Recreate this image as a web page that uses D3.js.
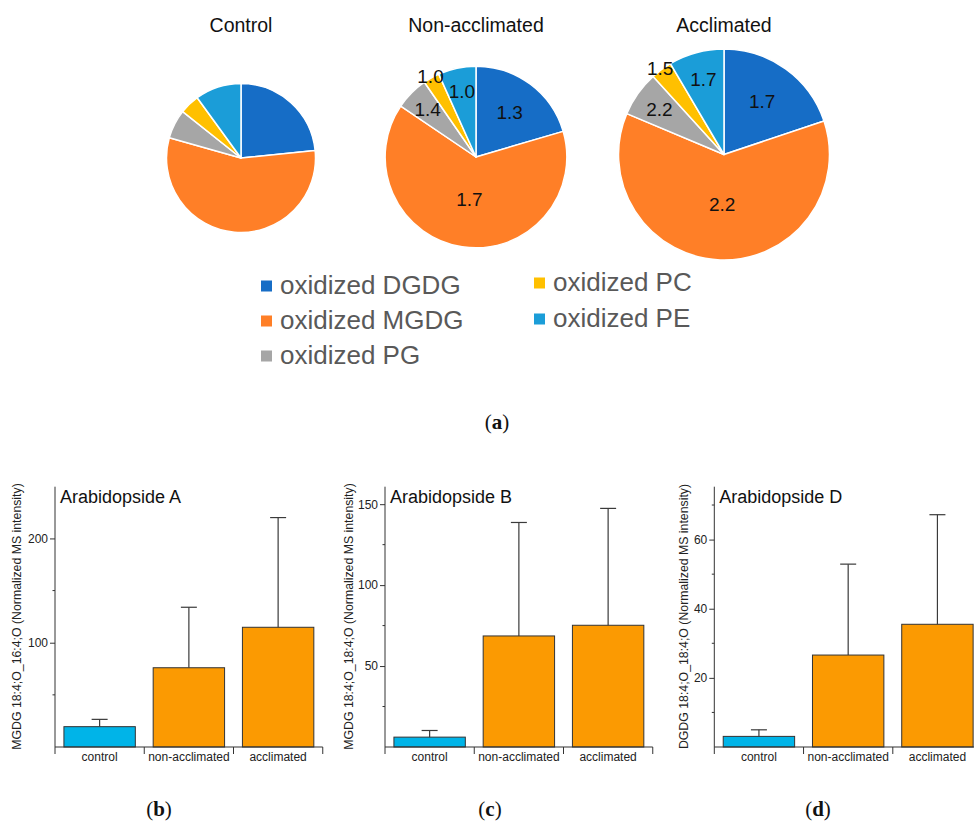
<!DOCTYPE html>
<html><head><meta charset="utf-8">
<script src="https://cdn.jsdelivr.net/npm/d3@7"></script>
<style>
body{margin:0;background:#fff;}
svg{display:block;font-family:"Liberation Sans",Arial,sans-serif;}
</style></head>
<body>
<svg id="c" width="974" height="828"></svg>
<script>
// ---------- DATA ----------
const lipidClasses = ["oxidized DGDG","oxidized MGDG","oxidized PG","oxidized PC","oxidized PE"];
const pieTitles = ["Control","Non-acclimated","Acclimated"];
// relative amounts of each oxidized class (control total = 100)
const controlShares = [23.4, 56.0, 6.3, 4.3, 10.0];
const nonAcclimatedShares = [30.4, 95.2, 8.8, 4.3, 10.0];
const acclimatedShares = [39.8, 123.2, 13.9, 6.5, 17.0];
// fold-change labels written on slices
const controlLabels = [null, null, null, null, null];
const nonAcclimatedLabels = ["1.3","1.7","1.4","1.0","1.0"];
const acclimatedLabels = ["1.7","2.2","2.2","1.5","1.7"];

const barCategories = ["control","non-acclimated","acclimated"];
const arabidopsideA = [19.5, 76, 114.8];
const arabidopsideAErr = [7, 58, 105.2];
const arabidopsideB = [6.1, 68.6, 75.2];
const arabidopsideBErr = [4.1, 70.1, 72.2];
const arabidopsideD = [3.07, 26.6, 35.5];
const arabidopsideDErr = [1.9, 26.3, 31.7];
const ticksA = [100, 200];
const ticksB = [50, 100, 150];
const ticksD = [20, 40, 60];

// ---------- STYLE / LAYOUT ----------
const pieColors = ["#166dc6","#ff7f27","#a6a6a6","#ffc000","#1b9dd8"];
const labelRadiusFactor = [0.62, 0.47, 0.75, 1.02, 0.74];
const svg = d3.select("#c");

// ---------- PIES ----------
const pieSets = [
  {title: pieTitles[0], values: controlShares, labels: controlLabels, cx: 241, cy: 158},
  {title: pieTitles[1], values: nonAcclimatedShares, labels: nonAcclimatedLabels, cx: 476, cy: 157},
  {title: pieTitles[2], values: acclimatedShares, labels: acclimatedLabels, cx: 724, cy: 154.5}
];
const rScale = d3.scaleSqrt().domain([0, 100]).range([0, 74.5]);
const pie = d3.pie().sort(null).value(d => d);
pieSets.forEach(p => {
  const total = d3.sum(p.values);
  const r = rScale(total);
  const g = svg.append("g").attr("transform", `translate(${p.cx},${p.cy})`);
  const arcs = pie(p.values);
  const arc = d3.arc().innerRadius(0).outerRadius(r);
  g.selectAll("path").data(arcs).join("path")
    .attr("d", arc).attr("fill", (d,i) => pieColors[i])
    .attr("stroke", "#fff").attr("stroke-width", 1.5).attr("stroke-linejoin","round");
  g.selectAll("text.lab").data(arcs).join("text").attr("class","lab")
    .filter((d,i) => p.labels[i] != null)
    .attr("x", (d) => { const a = (d.startAngle + d.endAngle)/2; return Math.sin(a) * r * labelRadiusFactor[d.index]; })
    .attr("y", (d) => { const a = (d.startAngle + d.endAngle)/2; return -Math.cos(a) * r * labelRadiusFactor[d.index]; })
    .attr("dy", "0.36em").attr("text-anchor","middle")
    .attr("font-size", 19).attr("fill", "#111")
    .text((d) => p.labels[d.index]);
  svg.append("text").attr("x", p.cx).attr("y", 32)
    .attr("text-anchor","middle").attr("font-size", 19.5).attr("fill","#111")
    .text(p.title);
});

// ---------- LEGEND ----------
const legendPos = [
  {x: 261, y: 294}, {x: 261, y: 329}, {x: 261, y: 364},
  {x: 534, y: 291}, {x: 534, y: 327}
];
const lg = svg.append("g");
lipidClasses.forEach((name, i) => {
  const p = legendPos[i];
  lg.append("rect").attr("x", p.x).attr("y", p.y - 13.5).attr("width", 11).attr("height", 11)
    .attr("fill", pieColors[i]);
  lg.append("text").attr("x", p.x + 19).attr("y", p.y)
    .attr("font-size", 26).attr("fill", "#595959").text(name);
});

// panel labels
function panelLabel(x, y, letter) {
  const t = svg.append("text").attr("x", x).attr("y", y).attr("text-anchor","middle")
    .attr("font-family", "'Liberation Serif','DejaVu Serif',serif").attr("font-size", 21).attr("fill","#111");
  t.append("tspan").text("(");
  t.append("tspan").attr("font-weight","bold").text(letter);
  t.append("tspan").text(")");
}
panelLabel(497, 429, "a");
panelLabel(159, 816, "b");
panelLabel(490, 816, "c");
panelLabel(818, 816, "d");

// ---------- BAR CHARTS ----------
const panels = [
  {title: "Arabidopside A", ylabel: "MGDG 18:4;O_16:4;O (Normalized MS intensity)", values: arabidopsideA, err: arabidopsideAErr, ticks: ticksA, ymax: 249.6, x0: 55, labX: 17},
  {title: "Arabidopside B", ylabel: "MGDG 18:4;O_18:4;O (Normalized MS intensity)", values: arabidopsideB, err: arabidopsideBErr, ticks: ticksB, ymax: 160.8, x0: 385, labX: 349},
  {title: "Arabidopside D", ylabel: "DGDG 18:4;O_18:4;O (Normalized MS intensity)", values: arabidopsideD, err: arabidopsideDErr, ticks: ticksD, ymax: 75.3, x0: 714.3, labX: 684}
];
const barColors = ["#00b4e8","#fb9a02","#fb9a02"];
const yTop = 486.7, yBottom = 747;
const axisColor = "#333";
panels.forEach(p => {
  const g = svg.append("g");
  const x = d3.scaleBand().domain(barCategories).range([p.x0, p.x0 + 267.75])
    .paddingInner(0.2).paddingOuter(0.1);
  const y = d3.scaleLinear().domain([0, p.ymax]).range([yBottom, yTop]);
  // bars
  g.selectAll("rect.bar").data(p.values).join("rect").attr("class","bar")
    .attr("x", (d,i) => x(barCategories[i])).attr("width", x.bandwidth())
    .attr("y", d => y(d)).attr("height", d => y(0) - y(d))
    .attr("fill", (d,i) => barColors[i]).attr("stroke", "#333").attr("stroke-width", 1);
  // error bars (upper)
  p.values.forEach((v, i) => {
    const cx = x(barCategories[i]) + x.bandwidth()/2;
    g.append("line").attr("x1", cx).attr("x2", cx).attr("y1", y(v)).attr("y2", y(v + p.err[i]))
      .attr("stroke", "#3a3a3a").attr("stroke-width", 1.2);
    g.append("line").attr("x1", cx - 8).attr("x2", cx + 8).attr("y1", y(v + p.err[i])).attr("y2", y(v + p.err[i]))
      .attr("stroke", "#3a3a3a").attr("stroke-width", 1.2);
  });
  // y axis
  const yAxis = d3.axisLeft(y).tickValues(p.ticks).tickSize(5).tickPadding(2).tickFormat(d3.format("d"));
  const ya = g.append("g").attr("transform", `translate(${p.x0},0)`).call(yAxis);
  ya.select(".domain").remove();
  ya.selectAll("line").attr("stroke", axisColor);
  ya.selectAll("text").attr("font-size", 12).attr("fill", "#222").attr("font-family","'Liberation Sans',Arial,sans-serif");
  // minor ticks
  const step = p.ticks[1] - p.ticks[0];
  const minor = d3.range(step/2, p.ymax, step);
  g.selectAll("line.minor").data(minor).join("line").attr("class","minor")
    .attr("x1", p.x0 - 2.5).attr("x2", p.x0).attr("y1", d => y(d)).attr("y2", d => y(d))
    .attr("stroke", axisColor);
  // axis lines
  g.append("line").attr("x1", p.x0).attr("x2", p.x0).attr("y1", yTop).attr("y2", yBottom + 7)
    .attr("stroke", axisColor).attr("stroke-width", 1);
  g.append("line").attr("x1", p.x0).attr("x2", p.x0 + 267.75).attr("y1", yBottom).attr("y2", yBottom)
    .attr("stroke", axisColor).attr("stroke-width", 1.2);
  // category boundary ticks
  const bounds = barCategories.map(c => x(c) - x.step()*0.1 + x.step()).slice(0);
  g.selectAll("line.bt").data(bounds).join("line").attr("class","bt")
    .attr("x1", d => d).attr("x2", d => d).attr("y1", yBottom).attr("y2", yBottom + 7)
    .attr("stroke", axisColor);
  // category labels
  g.selectAll("text.cat").data(barCategories).join("text").attr("class","cat")
    .attr("x", d => x(d) + x.bandwidth()/2).attr("y", 761)
    .attr("text-anchor","middle").attr("font-size", 12).attr("fill","#222").text(d => d);
  // title
  g.append("text").attr("x", p.x0 + 5).attr("y", 503).attr("font-size", 18).attr("fill","#111").text(p.title);
  // y label
  g.append("text").attr("transform", `translate(${p.labX + 4},616.5) rotate(-90)`)
    .attr("text-anchor","middle").attr("font-size", 12.3).attr("fill","#222").text(p.ylabel);
});
</script>
</body></html>
